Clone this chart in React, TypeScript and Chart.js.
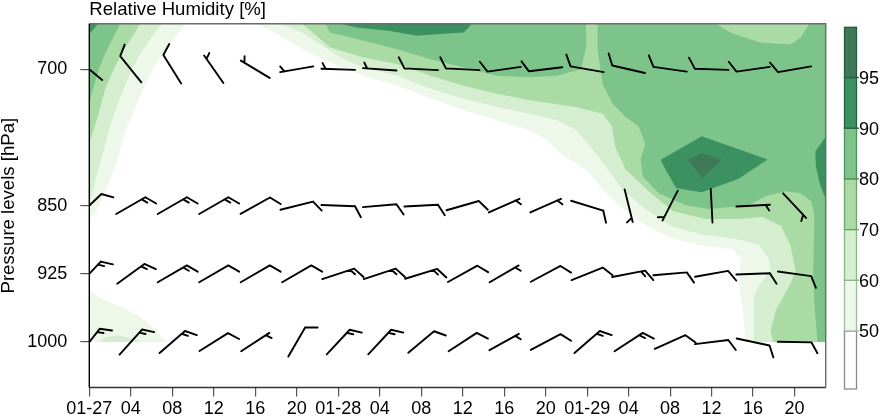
import React, { useEffect, useRef } from "react";
import { Chart, registerables } from "chart.js";

Chart.register(...registerables);

// ---------- axes ----------
const HOURS = [0, 4, 8, 12, 16, 20, 24, 28, 32, 36, 40, 44, 48, 52, 56, 60, 64, 68];
const X_TICK_LABELS = [
  "01-27", "04", "08", "12", "16", "20",
  "01-28", "04", "08", "12", "16", "20",
  "01-29", "04", "08", "12", "16", "20",
];
const X_MIN = 0;
const X_MAX = 71;
const Y_TICKS = [700, 850, 925, 1000];
const Y_TOP = 650;
const Y_BOTTOM = 1050;

// ---------- wind barbs (direction wind comes from, deg; speed) ----------
const PRESSURE_LEVELS = [700, 850, 925, 1000];
const WIND_DIR_700 = [310, 321, 328, 325, 301, 260, 272, 274, 273, 273, 262, 263, 280, 283, 278, 272, 262, 260];
const WIND_SPD_700 = [10, 10, 10, 5, 5, 5, 5, 5, 10, 10, 10, 10, 10, 10, 10, 10, 10, 10];
const WIND_DIR_850 = [46, 60, 60, 60, 61, 76, 92, 85, 87, 74, 66, 66, 107, 166, 207, 177, 87, 137];
const WIND_SPD_850 = [10, 15, 15, 15, 10, 10, 10, 10, 10, 10, 5, 5, 10, 5, 5, 2, 5, 5];
const WIND_DIR_925 = [43, 54, 60, 60, 60, 60, 72, 72, 73, 61, 60, 62, 68, 79, 85, 80, 88, 98];
const WIND_SPD_925 = [15, 15, 15, 10, 10, 10, 15, 15, 15, 10, 5, 10, 10, 15, 10, 10, 10, 10];
const WIND_DIR_1000 = [38, 42, 49, 58, 57, 30, 43, 43, 50, 57, 61, 62, 49, 57, 66, 83, 102, 91];
const WIND_SPD_1000 = [15, 15, 15, 10, 5, 10, 15, 15, 10, 10, 5, 10, 15, 15, 10, 10, 10, 10];

// ---------- relative humidity filled contours ----------
const RH_BREAKS = [50, 60, 70, 80, 90, 95];
const RH_COLORS = ["#edf8ea", "#d4eecf", "#abdba5", "#7dc48b", "#3c9160", "#3e7a58"];
const RH_BELOW_COLOR = "#ffffff";
const CB_BORDERS = ["#8a8a8a", "#a3b8a0", "#8fb38a", "#6fa36b", "#4f8f5f", "#255f3e", "#2a5a40"];

// areas where RH >= 50  ([hour, hPa] vertices)
const RH_AREAS_50 = [
  [[0, 650], [9.2, 650], [8.3, 665], [7.0, 683], [5.9, 705], [4.7, 734], [3.4, 771], [2.5, 807], [1.5, 836], [0.55, 858], [0, 865]],
  [[16, 650], [71, 650], [71, 1000], [63.3, 1000], [63.0, 965], [62.7, 943], [62.8, 908], [62.0, 898], [59.1, 894], [55.9, 885],
    [53.3, 869], [51.1, 850.5], [49.5, 832], [48.2, 814], [46.9, 803], [45.75, 796], [44.15, 778], [42.5, 767], [39.3, 756],
    [36.1, 745], [32.9, 732], [29.7, 718], [26.45, 707], [23.7, 694.5], [21.5, 683.6], [19.5, 670.5], [17.6, 658]],
  [[0, 943], [1.5, 954], [3.45, 963], [5.4, 976], [7.5, 1000], [0, 1000]],
];
// RH >= 60
const RH_AREAS_60 = [
  [[0, 650], [7.0, 650], [6.0, 665], [4.9, 683], [3.9, 705], [3.0, 730.5], [2.0, 763], [1.2, 796], [0.55, 825], [0, 847]],
  [[18.4, 650], [71, 650], [71, 1000], [64.1, 1000], [64.1, 970.5], [64.1, 948.7], [64.7, 935.6], [65.7, 921.5], [65.5, 908.4],
    [64.55, 893], [62.3, 886.5], [59.1, 882], [56.05, 872.4], [53.6, 853.8], [51.4, 832], [49.8, 807], [48.3, 785], [46.9, 766.5],
    [45.1, 756], [42.5, 748.8], [39.3, 741.5], [36.1, 732.4], [32.9, 721.5], [29.7, 707], [26.45, 698], [24.2, 687], [22.3, 672.7], [20.5, 659.6]],
  [[1.0, 1000], [1.5, 995], [2.8, 992.4], [4.1, 996], [5.1, 1000]],
];
// RH >= 70
const RH_AREAS_70 = [
  [[0, 650], [4.9, 650], [4.1, 665], [3.1, 683], [2.3, 701.4], [1.5, 723], [0.9, 749], [0.2, 774], [0, 782]],
  [[20.5, 650], [71, 650], [71, 1000], [65.9, 1000], [65.7, 987], [66.2, 965], [67.6, 935.6], [68.1, 921.5], [67.6, 894],
    [66.7, 872.4], [64.9, 862.5], [62.8, 864.7], [59.4, 864.7], [56.25, 856], [53.9, 834], [51.7, 810], [50.7, 785], [50.4, 763],
    [49.5, 749], [46.9, 741.5], [45.75, 739.6], [42.5, 734], [39.3, 727], [36.1, 718], [32.9, 707], [29.7, 694.2], [26.45, 687],
    [23.2, 676], [21.8, 662]],
];
// RH >= 80
const RH_AREAS_80 = [
  [[0, 650], [3.0, 650], [2.3, 665], [1.5, 683], [0.9, 701.4], [0.4, 719.6], [0, 738]],
  [[22.75, 650], [47.9, 650], [47.9, 676], [47.4, 700], [45.1, 707], [42.5, 708.7], [39.3, 707], [36.1, 698], [32.9, 689],
    [29.7, 678], [26.45, 668.7], [23.2, 659.6]],
  [[49.0, 650], [60.4, 650], [61.8, 659.6], [64.7, 670.5], [67.6, 672.7], [68.6, 665], [69.4, 650], [71, 650], [71, 1000],
    [70.2, 1000], [69.9, 957.5], [69.8, 921.5], [69.9, 861.5], [69.6, 845.1], [68.6, 836.4], [67.1, 834.2], [65.2, 839.6],
    [63.6, 849.5], [59.7, 853.8], [57.5, 849.5], [54.9, 836.4], [53.35, 818], [53.15, 799], [53.6, 782], [52.96, 763],
    [51.7, 752.4], [50.45, 738], [49.5, 716.4], [49.0, 679.3]],
];
// RH >= 90
const RH_AREAS_90 = [
  [[0, 650], [0.85, 650], [0, 661.4]],
  [[24.2, 650], [36.9, 650], [36.1, 659.6], [33.5, 661.5], [31.6, 663.2], [29.0, 657.8], [25.8, 654.2]],
  [[55.1, 799.6], [59.05, 773.6], [65.4, 799.3], [62.6, 820.5], [59.05, 835.3], [56.6, 830.9], [55.6, 811.3]],
  [[71, 774], [70.0, 790.5], [70.05, 807], [70.5, 828.7], [71, 843]],
];
// RH >= 95
const RH_AREAS_95 = [
  [[57.7, 799.6], [59.1, 792.4], [61.0, 799.6], [59.1, 819.7], [58.5, 810.5]],
];

const RH_AREA_SETS = [RH_AREAS_50, RH_AREAS_60, RH_AREAS_70, RH_AREAS_80, RH_AREAS_90, RH_AREAS_95];
const WIND_DIR = [WIND_DIR_700, WIND_DIR_850, WIND_DIR_925, WIND_DIR_1000];
const WIND_SPD = [WIND_SPD_700, WIND_SPD_850, WIND_SPD_925, WIND_SPD_1000];

const FONT_FAMILY = '"Liberation Sans", Arial, Helvetica, sans-serif';
Chart.defaults.font.family = FONT_FAMILY;

function drawBarb(ctx: CanvasRenderingContext2D, cx: number, cy: number, dirDeg: number, speed: number) {
  const H = 16.8;
  const FULL = 12.5;
  const HALF = 6.5;
  const STEP = 4.2;
  const ANG = 60;
  const r = (dirDeg * Math.PI) / 180;
  const ux = Math.sin(r);
  const uy = -Math.cos(r);
  const tipX = cx + ux * H;
  const tipY = cy + uy * H;
  ctx.beginPath();
  ctx.moveTo(cx - ux * H, cy - uy * H);
  ctx.lineTo(tipX, tipY);
  const s = Math.round(speed / 5) * 5;
  const nFull = Math.floor(s / 10);
  const half = s % 10 >= 5;
  const fr = ((dirDeg + ANG) * Math.PI) / 180;
  const fx = Math.sin(fr);
  const fy = -Math.cos(fr);
  let d = nFull === 0 && half ? STEP : 0;
  for (let i = 0; i < nFull; i++) {
    const bx = tipX - ux * d;
    const by = tipY - uy * d;
    ctx.moveTo(bx, by);
    ctx.lineTo(bx + fx * FULL, by + fy * FULL);
    d += STEP;
  }
  if (half) {
    const bx = tipX - ux * d;
    const by = tipY - uy * d;
    ctx.moveTo(bx, by);
    ctx.lineTo(bx + fx * HALF, by + fy * HALF);
  }
  ctx.stroke();
}

const windBarbPlugin = {
  id: "windBarbs",
  afterDatasetsDraw(chart: any) {
    const { ctx, chartArea: a, scales } = chart;
    const xs = scales.x;
    const ys = scales.y;
    ctx.save();
    ctx.beginPath();
    ctx.rect(a.left, a.top, a.right - a.left, a.bottom - a.top);
    ctx.clip();
    ctx.strokeStyle = "#000";
    ctx.lineWidth = 1.9;
    ctx.lineCap = "round";
    ctx.lineJoin = "round";
    PRESSURE_LEVELS.forEach((lev, li) => {
      HOURS.forEach((h, ti) => {
        drawBarb(ctx, xs.getPixelForValue(h), ys.getPixelForValue(lev), WIND_DIR[li][ti], WIND_SPD[li][ti]);
      });
    });
    ctx.restore();

    // frame
    ctx.save();
    ctx.lineWidth = 1.4;
    ctx.strokeStyle = "#6a6a6a";
    ctx.beginPath();
    ctx.moveTo(a.left, a.top);
    ctx.lineTo(a.right, a.top);
    ctx.lineTo(a.right, a.bottom);
    ctx.stroke();
    ctx.strokeStyle = "#333";
    ctx.beginPath();
    ctx.moveTo(a.left, a.bottom);
    ctx.lineTo(a.right, a.bottom);
    ctx.stroke();
    ctx.strokeStyle = "#000";
    ctx.beginPath();
    ctx.moveTo(a.left, a.top);
    ctx.lineTo(a.left, a.bottom);
    ctx.stroke();
    ctx.restore();
  },
};

const titleAndColorbarPlugin = {
  id: "titleColorbar",
  afterDraw(chart: any) {
    const { ctx, chartArea: a } = chart;
    ctx.save();
    ctx.fillStyle = "#000";
    ctx.font = `18.6px ${FONT_FAMILY}`;
    ctx.textAlign = "left";
    ctx.textBaseline = "alphabetic";
    ctx.fillText("Relative Humidity [%]", a.left, 15);

    // colour bar
    ctx.font = `18px ${FONT_FAMILY}`;
    const x0 = 844.5;
    const w = 12;
    const bottom = 389;
    const top = 27.3;
    const firstBreakY = 331;
    const step = 50.7;
    const breakY = RH_BREAKS.map((_, i) => firstBreakY - i * step);
    const boxColors = [RH_BELOW_COLOR, ...RH_COLORS];
    for (let k = 0; k < boxColors.length; k++) {
      const yb = k === 0 ? bottom : breakY[k - 1];
      const yt = k === boxColors.length - 1 ? top : breakY[k];
      ctx.fillStyle = boxColors[k];
      ctx.fillRect(x0, yt, w, yb - yt);
      ctx.strokeStyle = CB_BORDERS[k];
      ctx.lineWidth = 1.3;
      ctx.strokeRect(x0, yt, w, yb - yt);
    }
    ctx.fillStyle = "#000";
    ctx.textBaseline = "middle";
    RH_BREAKS.forEach((b, i) => {
      ctx.strokeStyle = CB_BORDERS[i + 1];
      ctx.beginPath();
      ctx.moveTo(x0 + w, breakY[i]);
      ctx.lineTo(x0 + w + 2.5, breakY[i]);
      ctx.stroke();
      ctx.fillText(String(b), x0 + w + 2.5, breakY[i] + 1.5);
    });
    ctx.restore();
  },
};

export default function App() {
  const ref = useRef<HTMLCanvasElement>(null);
  useEffect(() => {
    document.body.style.margin = "0";
    const canvas = ref.current;
    if (!canvas) return;
    const datasets: any[] = [];
    RH_AREA_SETS.forEach((areas, k) => {
      areas.forEach((poly) => {
        const pts = poly.map(([x, y]) => ({ x, y }));
        pts.push({ x: poly[0][0], y: poly[0][1] });
        datasets.push({
          label: `RH >= ${RH_BREAKS[k]}`,
          data: pts,
          fill: "shape",
          backgroundColor: RH_COLORS[k],
          borderColor: "rgba(0,0,0,0)",
          borderWidth: 0,
          pointRadius: 0,
          pointHoverRadius: 0,
          pointHitRadius: 0,
          tension: 0,
          order: RH_BREAKS.length - k,
        });
      });
    });

    const tickFont = { size: 18, family: FONT_FAMILY };
    const chart = new Chart(canvas, {
      type: "line",
      data: { datasets },
      options: {
        animation: false,
        responsive: false,
        devicePixelRatio: 1,
        events: [],
        layout: { padding: { left: 0, top: 20.5, right: 54.3, bottom: 0 } },
        plugins: {
          legend: { display: false },
          tooltip: { enabled: false },
          title: { display: false },
        },
        scales: {
          x: {
            type: "linear",
            min: X_MIN,
            max: X_MAX,
            afterBuildTicks: (s: any) => {
              s.ticks = HOURS.map((v) => ({ value: v }));
            },
            afterFit: (s: any) => {
              s.height = 30.5;
            },
            ticks: {
              autoSkip: false,
              maxRotation: 0,
              minRotation: 0,
              padding: 2,
              color: "#000",
              font: tickFont,
              callback: (_v: any, i: number) => X_TICK_LABELS[i],
            },
            grid: { drawOnChartArea: false, drawTicks: true, tickLength: 9, color: "#555", lineWidth: 1.2 },
            border: { display: false },
          },
          y: {
            type: "linear",
            reverse: true,
            min: Y_TOP,
            max: Y_BOTTOM,
            afterBuildTicks: (s: any) => {
              s.ticks = Y_TICKS.map((v) => ({ value: v }));
            },
            afterFit: (s: any) => {
              s.width = 89.3;
            },
            ticks: {
              padding: 13,
              color: "#000",
              font: tickFont,
              callback: (v: any) => String(v),
            },
            grid: { drawOnChartArea: false, drawTicks: true, tickLength: 9, color: "#555", lineWidth: 1.2 },
            border: { display: false },
            title: {
              display: true,
              text: "Pressure levels [hPa]",
              color: "#000",
              font: { size: 18.6, lineHeight: 1, family: FONT_FAMILY },
              padding: 0,
            },
          },
        },
      } as any,
      plugins: [windBarbPlugin, titleAndColorbarPlugin],
    });
    return () => chart.destroy();
  }, []);
  return (
    <div style={{ width: 880, height: 418, margin: 0, padding: 0 }}>
      <canvas ref={ref} width={880} height={418} style={{ display: "block" }} />
    </div>
  );
}
